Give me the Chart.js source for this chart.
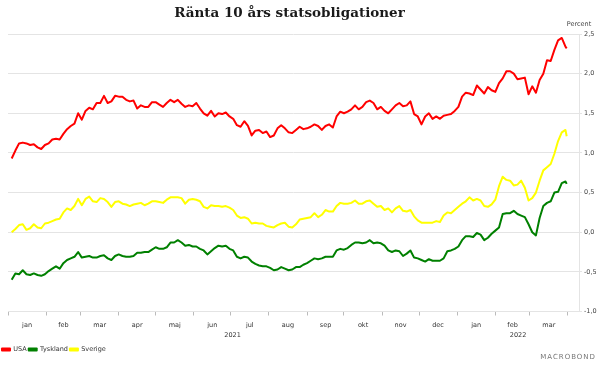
<!DOCTYPE html>
<html>
<head>
<meta charset="utf-8">
<script src="https://cdn.jsdelivr.net/npm/chart.js@4.4.1/dist/chart.umd.min.js"></script>
<style>
  html, body { margin: 0; padding: 0; background: #fff; }
  #wrap { width: 600px; height: 371px; position: relative; }
</style>
</head>
<body>
<div id="wrap"><canvas id="chart"></canvas></div>
<script>
// Texts
const TITLE = 'Ränta 10 års statsobligationer';
const UNIT = 'Percent';
const SOURCE = 'MACROBOND';

// Observation dates (every third day)
const dates = [
  '2021-01-04','2021-01-07','2021-01-10','2021-01-13','2021-01-16','2021-01-19','2021-01-22','2021-01-25','2021-01-28','2021-01-31',
  '2021-02-03','2021-02-06','2021-02-09','2021-02-12','2021-02-15','2021-02-18','2021-02-21','2021-02-24','2021-02-27',
  '2021-03-02','2021-03-05','2021-03-08','2021-03-11','2021-03-14','2021-03-17','2021-03-20','2021-03-23','2021-03-26','2021-03-29',
  '2021-04-01','2021-04-04','2021-04-07','2021-04-10','2021-04-13','2021-04-16','2021-04-19','2021-04-22','2021-04-25','2021-04-28',
  '2021-05-01','2021-05-04','2021-05-07','2021-05-10','2021-05-13','2021-05-16','2021-05-19','2021-05-22','2021-05-25','2021-05-28','2021-05-31',
  '2021-06-03','2021-06-06','2021-06-09','2021-06-12','2021-06-15','2021-06-18','2021-06-21','2021-06-24','2021-06-27','2021-06-30',
  '2021-07-03','2021-07-06','2021-07-09','2021-07-12','2021-07-15','2021-07-18','2021-07-21','2021-07-24','2021-07-27','2021-07-30',
  '2021-08-02','2021-08-05','2021-08-08','2021-08-11','2021-08-14','2021-08-17','2021-08-20','2021-08-23',
  '2021-08-26','2021-08-29',
  '2021-09-01','2021-09-04','2021-09-07','2021-09-10','2021-09-13','2021-09-16','2021-09-19','2021-09-22','2021-09-25','2021-09-28',
  '2021-10-01','2021-10-04','2021-10-07','2021-10-10','2021-10-13','2021-10-16','2021-10-19','2021-10-22','2021-10-25','2021-10-28','2021-10-31',
  '2021-11-03','2021-11-06','2021-11-09','2021-11-12','2021-11-15','2021-11-18','2021-11-21','2021-11-24','2021-11-27','2021-11-30',
  '2021-12-03','2021-12-06','2021-12-09','2021-12-12','2021-12-15','2021-12-18',
  '2021-12-21','2021-12-24','2021-12-27','2021-12-30',
  '2022-01-02','2022-01-05','2022-01-08','2022-01-11','2022-01-14','2022-01-17','2022-01-20','2022-01-23','2022-01-26','2022-01-29',
  '2022-02-01','2022-02-04','2022-02-07','2022-02-10','2022-02-13','2022-02-16','2022-02-19','2022-02-22','2022-02-25','2022-02-28',
  '2022-03-03','2022-03-06','2022-03-09','2022-03-12','2022-03-15','2022-03-18','2022-03-21','2022-03-24','2022-03-27','2022-03-30','2022-03-31'
];

const usa = [
  0.93,1.03,1.12,1.13,1.12,1.10,1.11,1.07,1.05,1.10,
  1.12,1.17,1.18,1.17,1.24,1.30,1.34,1.37,1.50,
  1.42,1.53,1.57,1.55,1.63,1.63,1.72,1.63,1.65,1.72,
  1.71,1.71,1.67,1.65,1.66,1.56,1.60,1.58,1.58,1.64,
  1.64,1.61,1.58,1.63,1.67,1.64,1.67,1.62,1.58,1.60,1.59,
  1.63,1.56,1.50,1.47,1.53,1.46,1.50,1.49,1.51,1.46,
  1.43,1.35,1.33,1.40,1.34,1.22,1.28,1.29,1.25,1.27,
  1.20,1.22,1.31,1.35,1.31,1.26,1.25,1.29,
  1.33,1.30,
  1.31,1.33,1.36,1.34,1.29,1.34,1.36,1.32,1.46,1.52,
  1.50,1.52,1.55,1.60,1.55,1.58,1.64,1.66,1.63,1.55,1.58,
  1.53,1.50,1.55,1.60,1.63,1.59,1.60,1.65,1.49,1.46,
  1.36,1.46,1.50,1.43,1.46,1.43,
  1.47,1.48,1.49,1.53,
  1.58,1.71,1.76,1.75,1.73,1.85,1.80,1.75,1.83,1.79,
  1.77,1.88,1.94,2.03,2.03,2.00,1.93,1.94,1.95,1.74,
  1.84,1.76,1.92,2.00,2.17,2.16,2.30,2.42,2.45,2.34,2.32
];

const tyskland = [
  -0.60,-0.52,-0.53,-0.48,-0.53,-0.54,-0.52,-0.54,-0.55,-0.53,
  -0.49,-0.46,-0.43,-0.46,-0.39,-0.35,-0.33,-0.31,-0.25,
  -0.32,-0.31,-0.30,-0.32,-0.32,-0.30,-0.29,-0.33,-0.35,-0.30,
  -0.28,-0.30,-0.31,-0.31,-0.30,-0.26,-0.26,-0.25,-0.25,-0.22,
  -0.19,-0.21,-0.21,-0.19,-0.13,-0.13,-0.10,-0.13,-0.17,-0.16,-0.18,
  -0.18,-0.21,-0.23,-0.28,-0.24,-0.20,-0.17,-0.18,-0.17,-0.21,
  -0.23,-0.31,-0.33,-0.31,-0.32,-0.37,-0.40,-0.42,-0.43,-0.43,
  -0.45,-0.48,-0.47,-0.44,-0.46,-0.48,-0.47,-0.44,
  -0.44,-0.41,
  -0.39,-0.36,-0.33,-0.34,-0.33,-0.31,-0.31,-0.31,-0.23,-0.21,
  -0.22,-0.20,-0.16,-0.13,-0.13,-0.14,-0.13,-0.10,-0.14,-0.13,-0.14,
  -0.17,-0.23,-0.25,-0.23,-0.24,-0.30,-0.27,-0.23,-0.32,-0.33,
  -0.35,-0.37,-0.34,-0.36,-0.36,-0.36,
  -0.33,-0.24,-0.23,-0.21,
  -0.18,-0.10,-0.05,-0.05,-0.06,-0.01,-0.03,-0.10,-0.07,-0.02,
  0.02,0.06,0.23,0.24,0.24,0.27,0.23,0.21,0.19,0.10,
  0.00,-0.04,0.18,0.33,0.37,0.39,0.50,0.51,0.62,0.64,0.61
];

const sverige = [
  0.00,0.04,0.09,0.10,0.03,0.05,0.10,0.06,0.05,0.11,
  0.12,0.14,0.16,0.17,0.25,0.30,0.28,0.33,0.42,
  0.34,0.42,0.45,0.39,0.38,0.43,0.42,0.38,0.32,0.38,
  0.39,0.36,0.35,0.33,0.35,0.36,0.37,0.34,0.36,0.39,
  0.39,0.38,0.37,0.41,0.44,0.44,0.44,0.43,0.36,0.41,0.42,
  0.41,0.39,0.32,0.30,0.34,0.33,0.33,0.32,0.33,0.31,
  0.28,0.21,0.18,0.19,0.17,0.11,0.12,0.11,0.11,0.08,
  0.07,0.06,0.09,0.11,0.12,0.07,0.06,0.10,
  0.16,0.17,
  0.18,0.19,0.24,0.19,0.22,0.28,0.26,0.26,0.33,0.37,
  0.36,0.36,0.37,0.40,0.36,0.36,0.39,0.40,0.36,0.32,0.33,
  0.28,0.30,0.25,0.30,0.33,0.27,0.26,0.28,0.20,0.15,
  0.12,0.12,0.12,0.12,0.14,0.13,
  0.21,0.25,0.24,0.28,
  0.32,0.36,0.39,0.44,0.40,0.42,0.40,0.33,0.32,0.35,
  0.41,0.58,0.70,0.66,0.65,0.59,0.60,0.65,0.56,0.40,
  0.43,0.50,0.65,0.78,0.82,0.86,0.99,1.15,1.26,1.29,1.21
];

// Axis
const axisStart = '2021-01-01';
const axisEnd = '2022-04-10';
const monthStarts = ['2021-01-01','2021-02-01','2021-03-01','2021-04-01','2021-05-01','2021-06-01','2021-07-01','2021-08-01',
  '2021-09-01','2021-10-01','2021-11-01','2021-12-01','2022-01-01','2022-02-01','2022-03-01','2022-04-01'];
const monthLabels = ['jan','feb','mar','apr','maj','jun','jul','aug','sep','okt','nov','dec','jan','feb','mar'];
const yearLabels = ['2021','2022'];
const yearStarts = ['2021-01-01','2022-01-01'];

function dayNum(d){ return (Date.parse(d) - Date.parse(axisStart)) / 864e5; }

const xMax = dayNum(axisEnd);
const monthTicks = monthStarts.map(d => dayNum(d));
const monthMids = monthLabels.map((_, i) => (monthTicks[i] + monthTicks[i+1]) / 2);
const yearMids = yearStarts.map((d, i) => (dayNum(d) + (i+1 < yearStarts.length ? dayNum(yearStarts[i+1]) : xMax)) / 2);

const series = (vals) => dates.map((d, i) => ({ x: dayNum(d), y: vals[i] }));

const SMALL = { family: '"DejaVu Sans"', size: 6.5 };
const GRID = '#e4e4e4';

const textPlugin = {
  id: 'texts',
  afterDraw(chart){
    const ctx = chart.ctx, a = chart.chartArea;
    ctx.save();
    ctx.fillStyle = '#1a1a1a';
    ctx.font = 'bold 13.5px "DejaVu Serif"';
    ctx.textAlign = 'center'; ctx.textBaseline = 'middle';
    ctx.fillText(TITLE, (a.left + a.right) / 2 - 4, 13);
    ctx.font = '6.5px "DejaVu Sans"'; ctx.fillStyle = '#444';
    ctx.fillText(UNIT, a.right, 24);
    ctx.textAlign = 'right'; ctx.fillStyle = '#777';
    ctx.letterSpacing = '1px';
    ctx.font = '7px "DejaVu Sans"';
    ctx.fillText(SOURCE, 596, 357);
    ctx.restore();
  }
};

const fixedTicks = (vals) => (scale) => { scale.ticks = vals.map(v => ({ value: v })); };

new Chart(document.getElementById('chart'), {
  type: 'line',
  data: {
    datasets: [
      { label: 'USA', data: series(usa), borderColor: '#ff0000', backgroundColor: '#ff0000' },
      { label: 'Tyskland', data: series(tyskland), borderColor: '#008000', backgroundColor: '#008000' },
      { label: 'Sverige', data: series(sverige), borderColor: '#ffff00', backgroundColor: '#ffff00' }
    ]
  },
  options: {
    responsive: true, maintainAspectRatio: false, animation: false, devicePixelRatio: 1,
    layout: { padding: { left: 0, right: 0, top: 34, bottom: 8.25 } },
    elements: { line: { borderWidth: 2, tension: 0, borderJoinStyle: 'round' }, point: { radius: 0 } },
    plugins: {
      legend: {
        position: 'bottom', align: 'start',
        labels: { boxWidth: 8, boxHeight: 2, padding: 2, color: '#333', font: SMALL }
      },
      tooltip: { enabled: false },
      title: { display: false }
    },
    scales: {
      x: {
        type: 'linear', position: 'bottom', min: 0, max: xMax,
        afterBuildTicks: fixedTicks(monthTicks),
        afterFit: (s) => { s.height = 5; },
        ticks: { display: false },
        grid: { drawOnChartArea: false, drawTicks: true, tickLength: 4, color: '#bbb' },
        border: { display: true, color: GRID }
      },
      xMonths: {
        type: 'linear', position: 'bottom', min: 0, max: xMax,
        afterBuildTicks: fixedTicks(monthMids),
        afterFit: (s) => { s.height = 12; },
        ticks: { autoSkip: false, maxRotation: 0, padding: 4.6, color: '#333', font: SMALL,
          callback: (v, i) => monthLabels[i] },
        grid: { display: false, drawTicks: false }, border: { display: false }
      },
      xYears: {
        type: 'linear', position: 'bottom', min: 0, max: xMax,
        afterBuildTicks: fixedTicks(yearMids),
        afterFit: (s) => { s.height = 15.75; },
        ticks: { autoSkip: false, maxRotation: 0, padding: 2.6, color: '#333', font: SMALL,
          callback: (v, i) => yearLabels[i] },
        grid: { display: false, drawTicks: false }, border: { display: false }
      },
      yPad: {
        type: 'linear', position: 'left', display: true,
        afterFit: (s) => { s.width = 8; },
        ticks: { display: false }, grid: { display: false, drawTicks: false }, border: { display: false }
      },
      y: {
        type: 'linear', position: 'right', min: -1, max: 2.5,
        afterFit: (s) => { s.width = 21; },
        ticks: { stepSize: 0.5, padding: 2, color: '#444', font: SMALL,
          callback: (v) => v.toFixed(1).replace('.', ',') },
        grid: { color: GRID, tickLength: 3, drawTicks: true },
        border: { display: true, color: GRID }
      }
    }
  },
  plugins: [textPlugin]
});
</script>
</body>
</html>
